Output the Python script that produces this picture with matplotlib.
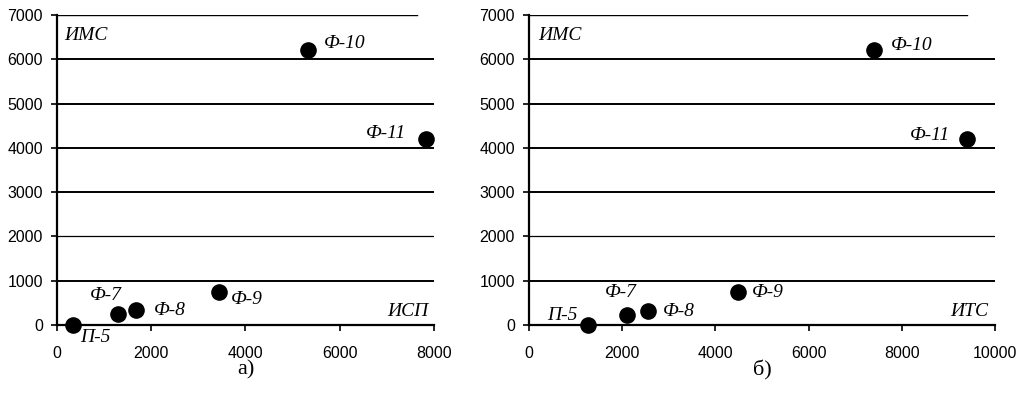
import numpy as np
import matplotlib.pyplot as plt

# panel a) : ИСП vs ИМС
names = ['П-5', 'Ф-7', 'Ф-8', 'Ф-9', 'Ф-10', 'Ф-11']
isp = [340, 1300, 1680, 3430, 5330, 7830]
ims_a = [0, 250, 330, 750, 6220, 4210]

# panel б) : ИТС vs ИМС
its = [1260, 2110, 2560, 4480, 7400, 9390]
ims_b = [0, 230, 310, 740, 6220, 4190]

yticks = [0, 1000, 2000, 3000, 4000, 5000, 6000, 7000]
xticks_a = [0, 2000, 4000, 6000, 8000]
xticks_b = [0, 2000, 4000, 6000, 8000, 10000]

# label offsets in pixels (dx, dy, ha)
offs_a = [(7, -13, 'left'), (-28, 18, 'left'), (18, 0, 'left'),
          (12, -8, 'left'), (16, 6, 'left'), (-20, 5, 'right')]
offs_b = [(-10, 10, 'right'), (-22, 22, 'left'), (15, 0, 'left'),
          (14, 0, 'left'), (17, 4, 'left'), (-17, 4, 'right')]

serif = 'Liberation Serif'
sans = 'Liberation Sans'

fig = plt.figure(figsize=(10.29, 3.94), dpi=100)
ax1 = fig.add_axes([57/1029, 1 - 325/394, 377/1029, 310/394])
ax2 = fig.add_axes([529/1029, 1 - 325/394, 466/1029, 310/394])


def draw_panel(ax, x, y, xticks, xmax, offs, xname, caption, top_frac):
    for v in yticks[1:-1]:
        lw = 0.9 if v == 2000 else 1.4
        ax.axhline(v, color='black', lw=lw, zorder=1)
    ax.axhline(7000, xmax=top_frac, color='black', lw=1.0, zorder=1)
    ax.scatter(x, y, s=120, color='black', zorder=3, clip_on=False)
    for xi, yi, nm, (dx, dy, ha) in zip(x, y, names, offs):
        ax.annotate(nm, (xi, yi), xytext=(dx * 0.72, dy * 0.72),
                    textcoords='offset points', ha=ha, va='center',
                    fontsize=14, family=serif, style='italic')
    ax.set_xlim(0, xmax)
    ax.set_ylim(0, 7000)
    ax.set_xticks(xticks)
    ax.set_yticks(yticks)
    for s in ['top', 'right']:
        ax.spines[s].set_visible(False)
    ax.spines['left'].set_linewidth(1.6)
    ax.spines['bottom'].set_linewidth(1.6)
    ax.tick_params(axis='x', direction='out', length=4, width=1.2,
                   pad=11, labelsize=11.5)
    ax.tick_params(axis='y', direction='out', length=4, width=1.2,
                   pad=6, labelsize=11.5)
    for lab in ax.get_xticklabels() + ax.get_yticklabels():
        lab.set_family(sans)
    ax.text(0.02, 0.935, 'ИМС', transform=ax.transAxes, fontsize=14,
            family=serif, style='italic', ha='left', va='center')
    ax.text(0.985, 0.045, xname, transform=ax.transAxes, fontsize=14,
            family=serif, style='italic', ha='right', va='center')
    ax.text(0.5, -0.115, caption, transform=ax.transAxes, fontsize=16,
            family=serif, ha='center', va='top')


draw_panel(ax1, isp, ims_a, xticks_a, 8000, offs_a, 'ИСП', 'а)', 0.955)
draw_panel(ax2, its, ims_b, xticks_b, 10000, offs_b, 'ИТС', 'б)', 0.94)

fig.savefig('out.png', dpi=100)
